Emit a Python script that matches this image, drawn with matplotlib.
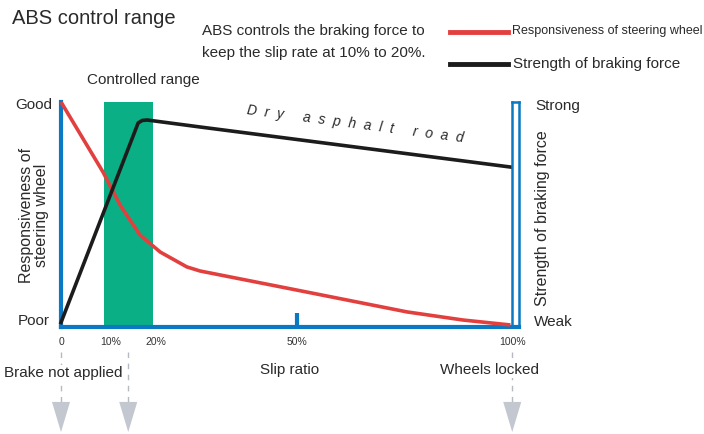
import numpy as np
import matplotlib
matplotlib.use('Agg')
import matplotlib.pyplot as plt

plt.rcParams['font.family'] = ['Liberation Sans Narrow', 'Liberation Sans', 'DejaVu Sans']

# slip ratio (%) vs relative level (0 = poor/weak, 100 = good/strong)
steer_x = [0, 9.3, 13.1, 17.5, 22.0, 27.9, 30.8, 52.3, 76.7, 89.1, 99.6]
steer_y = [100, 68.9, 54.2, 40.9, 33.3, 26.7, 24.9, 16.4, 6.7, 3.1, 0.9]
brake_x = [0, 17.1, 18.0, 19.1, 30.8, 99.6]
brake_y = [2, 90.7, 91.8, 92.0, 88.9, 71.1]
ctrl_range = [9.5, 20.4]
tick_pos = [0, 11, 21, 52.3, 100]
tick_labels = ['0', '10%', '20%', '50%', '100%']
marker_x = [0, 14.9, 100]

BLUE = '#0a78c2'
GREEN = '#0aaf86'
RED = '#e2403f'
BLACK = '#1c1c1c'
GREY = '#c3c7cf'

W, H = 704, 434
def px(x, y):
    return x / W, 1 - y / H

fig = plt.figure(figsize=(7.04, 4.34), dpi=100)
ax = fig.add_axes([61 / W, 107 / H, 458 / W, 225 / H])
ax.set_xlim(0, 101.5)
ax.set_ylim(0, 100)

ax.axvspan(ctrl_range[0], ctrl_range[1], color=GREEN, lw=0, zorder=1)
ax.plot(steer_x, steer_y, color=RED, lw=2.6, zorder=3, clip_on=False, solid_capstyle='butt')
ax.plot(brake_x, brake_y, color=BLACK, lw=2.6, zorder=3, clip_on=False, solid_joinstyle='round')

# spines
ax.spines['top'].set_visible(False)
ax.spines['left'].set_color(BLUE)
ax.spines['left'].set_linewidth(3)
ax.spines['bottom'].set_color(BLUE)
ax.spines['bottom'].set_linewidth(3)
ax.spines['right'].set_color(BLUE)
ax.spines['right'].set_linewidth(1.8)
ax.plot([100, 100], [0, 100], color=BLUE, lw=1.8, zorder=4, clip_on=False)
ax.plot([100, 101.5], [100, 100], color=BLUE, lw=1.8, zorder=4, clip_on=False)
# 50% mark
ax.plot([tick_pos[3], tick_pos[3]], [0, 6.2], color=BLUE, lw=3, zorder=4, solid_capstyle='butt')

ax.set_xticks(tick_pos)
ax.set_xticklabels(tick_labels, fontsize=7.5, color='#333333')
ax.tick_params(axis='x', length=0, pad=7)
ax.set_yticks([])

# dashed markers with arrows below the axis
tr = ax.get_xaxis_transform()
for mx in marker_x:
    ax.plot([mx, mx], [-0.111, -0.34], transform=tr, clip_on=False, color='#b5b9c2',
            lw=1, ls=(0, (4, 4)), zorder=0)
    ax.fill([mx - 2.0, mx + 2.0, mx], [-0.333, -0.333, -0.467], transform=tr,
            clip_on=False, color=GREY, lw=0, zorder=0)

txt = dict(color='#2a2a2a')
fig.text(*px(12, 18), 'ABS control range', fontsize=14.5, family=['Liberation Sans', 'DejaVu Sans'],
         va='center', ha='left', **txt)
fig.text(*px(202, 31), 'ABS controls the braking force to', fontsize=11, va='center', **txt)
fig.text(*px(202, 53), 'keep the slip rate at 10% to 20%.', fontsize=11, va='center', **txt)
fig.text(*px(87, 80), 'Controlled range', fontsize=11, va='center', **txt)
fig.text(*px(52, 105), 'Good', fontsize=11, va='center', ha='right', **txt)
fig.text(*px(50, 321), 'Poor', fontsize=11, va='center', ha='right', **txt)
fig.text(*px(535, 106), 'Strong', fontsize=11, va='center', ha='left', **txt)
fig.text(*px(534, 322), 'Weak', fontsize=11, va='center', ha='left', **txt)
fig.text(*px(34, 215), 'Responsiveness of\nsteering wheel', fontsize=11.5, rotation=90,
         va='center', ha='center', linespacing=0.95, **txt)
fig.text(*px(543, 218), 'Strength of braking force', fontsize=11.5, rotation=90,
         va='center', ha='center', **txt)
fig.text(*px(355, 124), 'D  r  y     a  s  p  h  a  l  t     r  o  a  d', fontsize=10, rotation=-7.4,
         va='center', ha='center', style='italic', family=['Liberation Sans', 'DejaVu Sans'],
         rotation_mode='anchor', **txt)

fig.text(*px(4, 373), 'Brake not applied', fontsize=11, va='center', ha='left',
         bbox=dict(facecolor='white', edgecolor='none', pad=1), **txt)
fig.text(*px(290, 370), 'Slip ratio', fontsize=11, va='center', ha='center', **txt)
fig.text(*px(489, 370), 'Wheels locked', fontsize=11, va='center', ha='center',
         bbox=dict(facecolor='white', edgecolor='none', pad=1), **txt)

# legend
fig.lines.append(plt.Line2D([450 / W, 508 / W], [1 - 32 / H, 1 - 32 / H], transform=fig.transFigure,
                            color=RED, lw=3.5))
fig.lines.append(plt.Line2D([450 / W, 508 / W], [1 - 64 / H, 1 - 64 / H], transform=fig.transFigure,
                            color=BLACK, lw=3.5))
fig.text(*px(512, 31), 'Responsiveness of steering wheel', fontsize=9, va='center', **txt)
fig.text(*px(513, 64), 'Strength of braking force', fontsize=11, va='center', **txt)

fig.savefig('out.png', dpi=100)
